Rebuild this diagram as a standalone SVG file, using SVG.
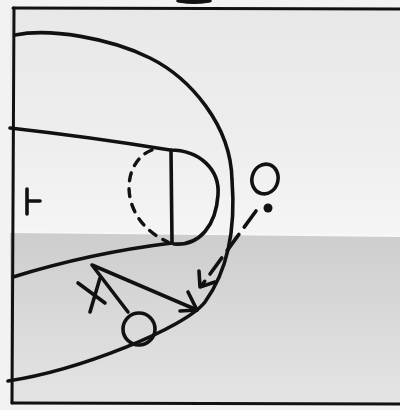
<svg xmlns="http://www.w3.org/2000/svg" width="400" height="410" viewBox="0 0 400 410">
  <defs>
    <linearGradient id="topPaper" x1="0" y1="0" x2="0" y2="1">
      <stop offset="0" stop-color="#e8e8e8"/>
      <stop offset="0.6" stop-color="#eeeeee"/>
      <stop offset="1" stop-color="#f5f5f5"/>
    </linearGradient>
    <linearGradient id="botPaper" x1="0" y1="0" x2="0" y2="1">
      <stop offset="0" stop-color="#cdcdcd"/>
      <stop offset="0.5" stop-color="#d9d9d9"/>
      <stop offset="1" stop-color="#e4e4e4"/>
    </linearGradient>
    <style>
      .ink { fill: none; stroke: #111; stroke-width: 3.6; stroke-linecap: round; stroke-linejoin: round; }
      .thin { fill: none; stroke: #111; stroke-width: 3; stroke-linecap: round; stroke-linejoin: round; }
      .dash { fill: none; stroke: #111; stroke-width: 3.4; stroke-linecap: round; stroke-dasharray: 8 8; }
    </style>
  </defs>

  <!-- paper -->
  <rect x="0" y="0" width="400" height="410" fill="#f2f2f2"/>
  <polygon points="10,8 400,8 400,236 10,232" fill="url(#topPaper)"/>
  <polygon points="10,232 400,236 400,403 10,403" fill="url(#botPaper)"/>
  <polygon points="10,231 400,235 400,237 10,233" fill="#f7f7f7"/>

  <!-- court outline -->
  <g id="court">
    <path class="thin" d="M13,8 L400,9"/>
    <ellipse cx="194" cy="1" rx="18" ry="3" fill="#111"/>
    <path class="thin" d="M14,8 L12,403"/>
    <path class="thin" d="M12,403 L400,404"/>
    <!-- three point arc -->
    <path class="ink" d="M15,35 C50,28 110,38 150,58 C190,78 231,125 232,180 C236,230 228,270 205,302 C185,328 80,370 8,381"/>
    <!-- lane -->
    <path class="ink" d="M10,128 Q90,137 170,150 C200,150 220,170 218,195 C216,225 200,246 174,244"/>
    <path class="ink" d="M171,150 L172,243"/>
    <path class="ink" d="M172,243 Q90,253 13,277"/>
    <!-- dashed restricted half circle -->
    <path class="dash" d="M152,150 C120,162 118,220 168,242"/>
    <!-- basket -->
    <path class="ink" d="M27,189 L27,214 M27,201 L40,201"/>
  </g>

  <!-- players -->
  <g id="player-top">
    <ellipse class="ink" cx="265" cy="179" rx="13" ry="15" transform="rotate(15 265 179)"/>
  </g>
  <g id="ball">
    <circle cx="268" cy="208" r="4.5" fill="#111"/>
  </g>
  <g id="player-bottom">
    <circle class="ink" cx="139" cy="329" r="16"/>
  </g>
  <g id="defender-x">
    <path class="ink" d="M78,283 L105,303 M100,278 L90,312"/>
  </g>

  <!-- connectors -->
  <g id="connectors">
    <path class="ink" d="M256,211 L202,285" stroke-dasharray="20 9"/>
    <path class="ink" d="M199,271 L200,287 L215,282"/>
    <path class="ink" d="M128,312 L92,265 L197,310"/>
    <path class="ink" d="M188,292 L197,310 L180,311"/>
  </g>
</svg>
